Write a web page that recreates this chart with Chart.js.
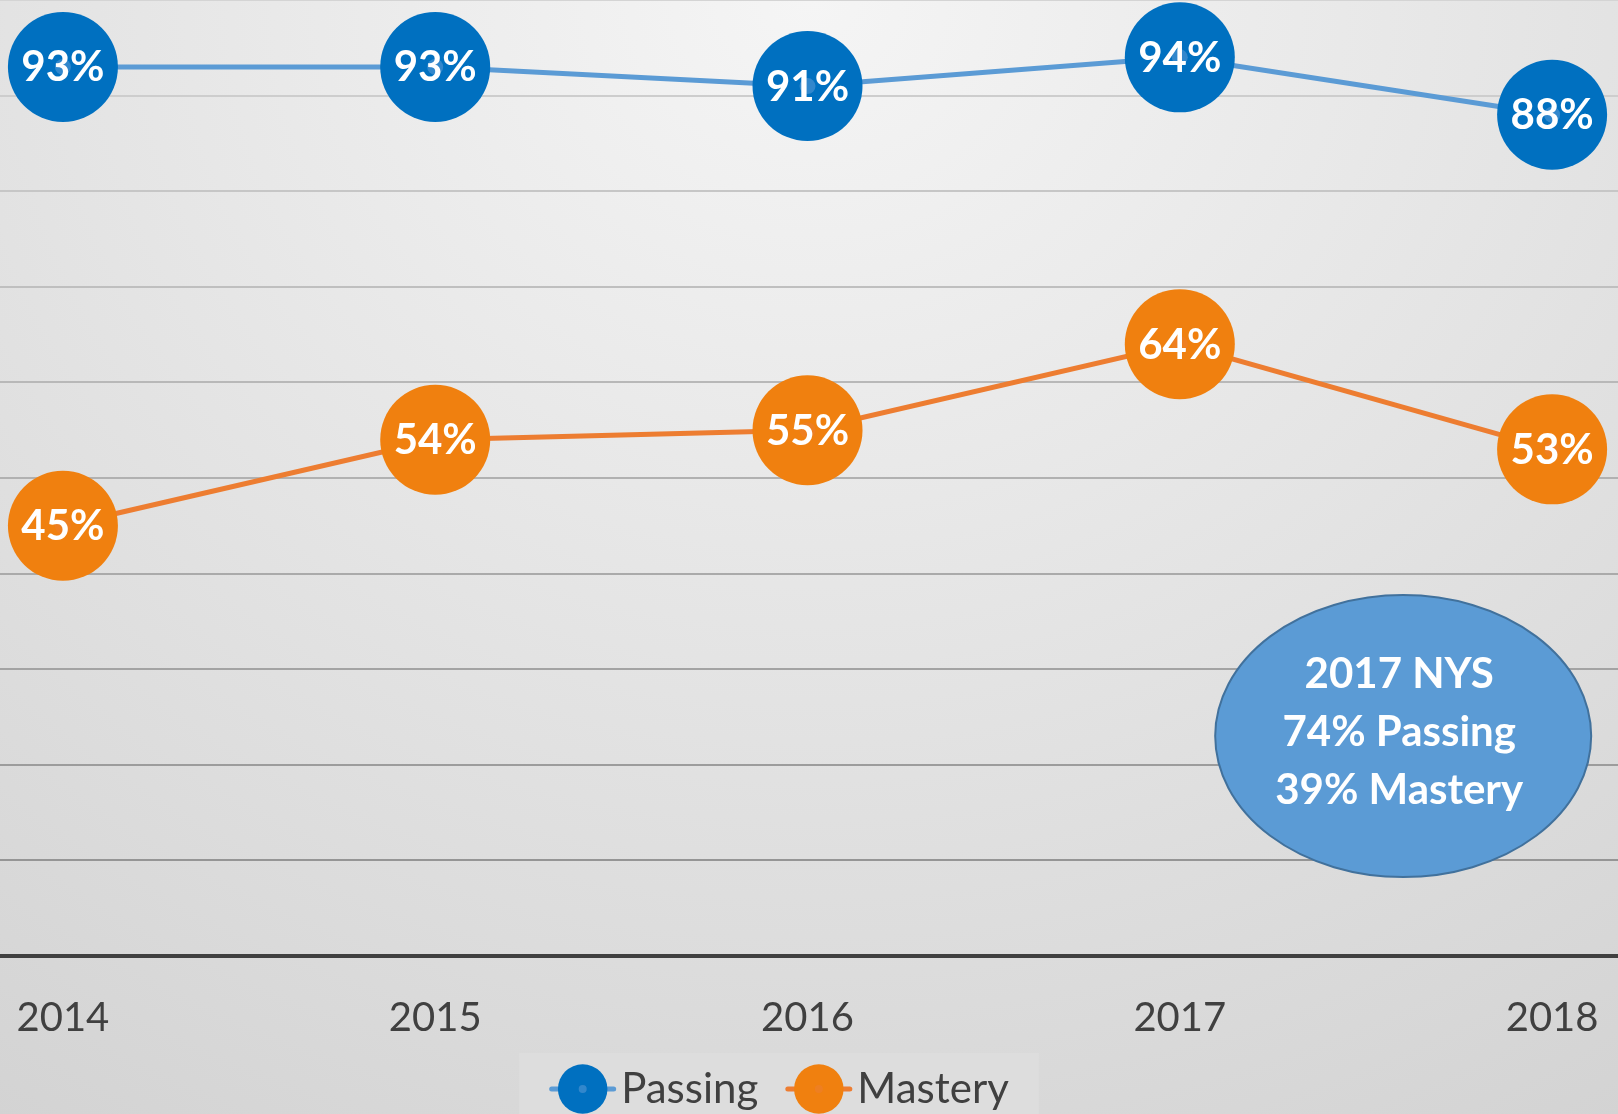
<!DOCTYPE html>
<html lang="en">
<head>
    <meta charset="UTF-8">
    <title>Passing e Mastery</title>
    <script src="https://cdn.jsdelivr.net/npm/chart.js"></script>
</head>

<style>
    body {
        margin: 0;
        overflow: hidden;
    }

    .grafico_sty {
        width: 1618px;
        height: 1114px;
        position: relative;
        background: radial-gradient(ellipse 110% 140% at 50% 0%, #f5f5f5 0%, #e3e3e3 45%, #cdcdcd 100%);
    }
</style>

<body>

    <div class="grafico_sty">
        <canvas id="grafico_1"></canvas>
    </div>

    <script>

        const anos = ['2014', '2015', '2016', '2017', '2018'];
        const passing = [93, 93, 91, 94, 88];
        const mastery = [45, 54, 55, 64, 53];
        const nomes = ['Passing', 'Mastery'];
        const notaTexto = ['2017 NYS', '74% Passing', '39% Mastery'];

        // onde fica a elipse (em valores das escalas)
        const notaX = 3.6;
        const notaY = 23;

        const ctx = document.getElementById('grafico_1');

        const corGrade = (v) => {
            // linhas de grade mais escuras embaixo
            const t = 1 - v / 100;
            const c = Math.round(212 - t * 70);
            return `rgb(${c},${c},${c})`;
        };

        const rotulos = {
            id: 'rotulos',
            afterDatasetsDraw(chart) {
                const c = chart.ctx;
                chart.data.datasets.forEach((ds, i) => {
                    chart.getDatasetMeta(i).data.forEach((pt, j) => {
                        c.save();
                        c.globalAlpha = 0.55;
                        c.fillStyle = ds.borderColor;
                        c.beginPath();
                        c.arc(pt.x, pt.y, 8, 0, Math.PI * 2);
                        c.fill();
                        c.restore();

                        c.save();
                        c.fillStyle = '#ffffff';
                        c.font = 'bold 42px Lato';
                        c.textAlign = 'center';
                        c.textBaseline = 'middle';
                        c.fillText(ds.data[j].y + '%', pt.x, pt.y + 1);
                        c.restore();
                    });
                });
            },
            afterDraw(chart) {
                const c = chart.ctx;
                const x = chart.scales.x.getPixelForValue(notaX);
                const y = chart.scales.y.getPixelForValue(notaY);
                c.save();
                c.beginPath();
                c.ellipse(x, y, 188, 141, 0, 0, Math.PI * 2);
                c.fillStyle = '#5B9BD5';
                c.fill();
                c.lineWidth = 2;
                c.strokeStyle = '#41719C';
                c.stroke();
                c.fillStyle = '#ffffff';
                c.font = 'bold 42px Lato';
                c.textAlign = 'center';
                c.textBaseline = 'middle';
                notaTexto.forEach((t, k) => {
                    c.fillText(t, x - 4, y - 4 + (k - 1) * 58);
                });
                c.restore();

                // pontinho no meio do marcador da legenda
                const lg = chart.legend;
                if (lg && lg.legendHitBoxes) {
                    lg.legendHitBoxes.forEach((hb, i) => {
                        const ds = chart.data.datasets[i];
                        c.save();
                        c.globalAlpha = 0.55;
                        c.fillStyle = ds.borderColor;
                        c.beginPath();
                        c.arc(hb.left + 17.5, hb.top + 21, 4, 0, Math.PI * 2);
                        c.fill();
                        c.restore();
                    });
                }
            }
        };

        const fundoLegenda = {
            id: 'fundoLegenda',
            afterLayout(chart) {
                const lg = chart.legend;
                lg.left -= 22;
                lg.right -= 22;
                lg.top += 6;
                lg.bottom += 6;
                // deixa os rotulos do eixo x caberem (senao sao cortados)
                chart.scales.x.bottom += 45;
                chart.scales.x.height += 45;
            },
            beforeDraw(chart) {
                const lg = chart.legend;
                const hb = lg.legendHitBoxes;
                if (!hb || !hb.length) return;
                const c = chart.ctx;
                const esq = hb[0].left - 46;
                const ultimo = hb[hb.length - 1];
                const dir = ultimo.left + ultimo.width + 30;
                const topo = hb[0].top - 15;
                c.save();
                c.fillStyle = '#dddddd';
                c.fillRect(esq, topo, dir - esq, chart.height - topo);
                // tracinhos da linha atravessando o marcador
                hb.forEach((h, i) => {
                    const ds = chart.data.datasets[i];
                    c.strokeStyle = ds.borderColor;
                    c.lineWidth = 5;
                    c.lineCap = 'round';
                    c.beginPath();
                    c.moveTo(h.left + 17.5 - 31, h.top + 21);
                    c.lineTo(h.left + 17.5 + 31, h.top + 21);
                    c.stroke();
                });
                c.restore();
            }
        };

        const grafico_1 = new Chart(ctx, {
            type: 'line',
            data: {
                datasets: [{
                    label: nomes[0],
                    data: passing.map((v, i) => ({ x: i, y: v })),
                    borderColor: '#5B9BD5',
                    backgroundColor: '#0070C0',
                    pointBackgroundColor: '#0070C0',
                    pointBorderWidth: 0,
                    pointRadius: 55,
                    pointHoverRadius: 55,
                    borderWidth: 5,
                    clip: false
                }, {
                    label: nomes[1],
                    data: mastery.map((v, i) => ({ x: i, y: v })),
                    borderColor: '#ED7D31',
                    backgroundColor: '#F0800F',
                    pointBackgroundColor: '#F0800F',
                    pointBorderWidth: 0,
                    pointRadius: 55,
                    pointHoverRadius: 55,
                    borderWidth: 5,
                    clip: false
                }]
            },
            options: {
                responsive: true,
                maintainAspectRatio: false,
                animation: false,
                layout: { padding: 0, autoPadding: false },
                plugins: {
                    tooltip: { enabled: false },
                    legend: {
                        position: 'bottom',
                        labels: {
                            usePointStyle: true,
                            pointStyle: 'circle',
                            boxHeight: 35,
                            boxWidth: 35,
                            padding: 43,
                            color: '#404040',
                            font: { family: 'Lato', size: 42 }
                        }
                    }
                },
                scales: {
                    x: {
                        type: 'linear',
                        min: -0.169,
                        max: 4.177,
                        grid: { display: false, drawTicks: false },
                        border: { color: '#404040', width: 4 },
                        ticks: {
                            stepSize: 1,
                            includeBounds: false,
                            autoSkip: false,
                            maxRotation: 0,
                            padding: 38,
                            color: '#404040',
                            font: { family: 'Lato', size: 40 },
                            callback: (v) => anos[v] ?? ''
                        },
                        afterFit(s) {
                            s.height = 63;
                            s.paddingLeft = 0;
                            s.paddingRight = 0;
                        }
                    },
                    y: {
                        min: 0,
                        max: 100,
                        border: { display: false },
                        grid: {
                            drawTicks: false,
                            lineWidth: 2,
                            color: (c) => corGrade(c.tick.value)
                        },
                        ticks: { display: false, stepSize: 10 },
                        afterFit(s) { s.width = 0; }
                    }
                }
            },
            plugins: [rotulos, fundoLegenda]
        });

    </script>

</body>

</html>
